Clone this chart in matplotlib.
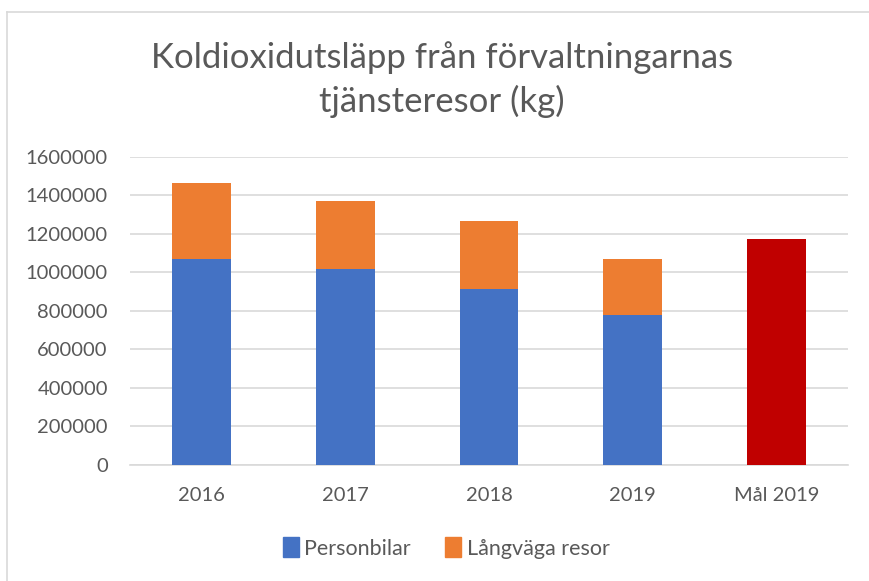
import matplotlib
matplotlib.use("Agg")
import matplotlib.pyplot as plt
from matplotlib.lines import Line2D
from matplotlib.patches import Patch

categories = ["2016", "2017", "2018", "2019", "Mål 2019"]
personbilar = [1068000, 1015000, 911000, 776000, 0]
langvaga = [395000, 355000, 355000, 292000, 0]
mal = [0, 0, 0, 0, 1172000]
yticks = [0, 200000, 400000, 600000, 800000, 1000000, 1200000, 1400000, 1600000]

W, H = 869, 581
plt.rcParams['font.family'] = ['Lato', 'DejaVu Sans']
fig = plt.figure(figsize=(W/100, H/100), dpi=100)
fig.patch.set_facecolor('white')

# chart border (left and top edges visible)
fig.add_artist(Line2D([7/W, 7/W], [0, 1 - 12/H], transform=fig.transFigure,
                      color='#d9d9d9', linewidth=1.2))
fig.add_artist(Line2D([7/W, 1], [1 - 12/H, 1 - 12/H], transform=fig.transFigure,
                      color='#d9d9d9', linewidth=1.2))

ax = fig.add_axes([130/W, 1 - 465/H, (848-130)/W, (465-156.5)/H])
x = list(range(len(categories)))
bw = 0.41
ax.bar(x[:4], personbilar[:4], bw, color='#4472C4', zorder=3)
ax.bar(x[:4], langvaga[:4], bw, bottom=personbilar[:4], color='#ED7D31', zorder=3)
ax.bar(x[4], mal[4], bw, color='#C00000', zorder=3)

ax.set_xlim(-0.5, 4.5)
ax.set_ylim(0, 1600000)
ax.set_yticks(yticks)
ax.set_yticklabels([str(v) for v in yticks])
ax.set_xticks(x)
ax.set_xticklabels(categories)
ax.grid(axis='y', color='#d9d9d9', linewidth=1.2, zorder=0)
for s in ['top', 'right', 'left']:
    ax.spines[s].set_visible(False)
ax.spines['bottom'].set_color('#d9d9d9')
ax.spines['bottom'].set_linewidth(1.2)
ax.tick_params(axis='both', length=0, labelsize=14.5, colors='#595959')
ax.tick_params(axis='y', pad=16)
ax.tick_params(axis='x', pad=16)

fig.text(442/W, 1 - 58/H, "Koldioxidutsläpp från förvaltningarnas", ha='center', va='center',
         fontsize=25, color='#595959')
fig.text(442/W, 1 - 101/H, "tjänsteresor (kg)", ha='center', va='center',
         fontsize=25, color='#595959')

handles = [Patch(color='#4472C4', label='Personbilar'), Patch(color='#ED7D31', label='Långväga resor')]
leg = fig.legend(handles=handles, loc='center', bbox_to_anchor=(446/W, 1 - 548/H), ncol=2,
                 frameon=False, fontsize=15.5, handlelength=0.75, handleheight=1.0,
                 handletextpad=0.25, columnspacing=1.6)
for t in leg.get_texts():
    t.set_color('#595959')

fig.savefig('out.png', dpi=100)
